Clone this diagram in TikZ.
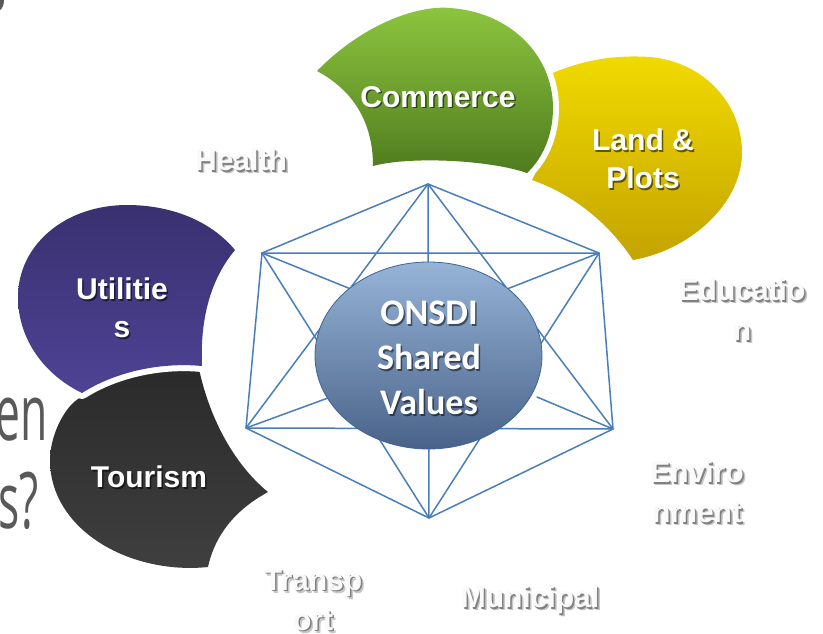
\documentclass[tikz,border=0pt]{standalone}
\usepackage{fontspec}
\setmainfont{Liberation Sans}
\newfontfamily\calib{Carlito}
\newfontfamily\opens{Open Sans}
\usetikzlibrary{shapes.geometric,shadings}
\definecolor{hexline}{HTML}{4A7EBB}
\definecolor{bgtext}{HTML}{595959}
\definecolor{grnT}{HTML}{8DC63F}
\definecolor{grnB}{HTML}{4F7B1E}
\definecolor{yelT}{HTML}{F1DA00}
\definecolor{yelB}{HTML}{C4A300}
\definecolor{purT}{HTML}{393070}
\definecolor{purB}{HTML}{4E4395}
\definecolor{greyT}{HTML}{2A2A2A}
\definecolor{greyB}{HTML}{404040}
\definecolor{ellT}{HTML}{96B4D8}
\definecolor{ellB}{HTML}{4A6289}
\definecolor{ellD}{HTML}{3D6597}
\definecolor{glabel}{HTML}{FAFAFA}
\tikzset{
  hexl/.style={draw=hexline, line width=1.5pt, line join=round, line cap=round},
  halo/.style={draw=white, line width=12pt, line join=round},
  inlbl/.style={text=white, font=\bfseries\fontsize{30}{38}\selectfont, align=center, inner sep=0pt},
  inshd/.style={text=black, opacity=0.55, font=\bfseries\fontsize{30}{38}\selectfont, align=center, inner sep=0pt},
  glbl/.style={text=glabel, font=\bfseries\fontsize{30}{40}\selectfont, align=center, inner sep=0pt},
  gshd/.style={text=black!50, font=\bfseries\fontsize{30}{40}\selectfont, align=center, inner sep=0pt},
  gshdb/.style={text=black!22, font=\bfseries\fontsize{30}{40}\selectfont, align=center, inner sep=0pt},
  elbl/.style={text=white, font=\calib\bfseries\fontsize{36}{45}\selectfont, align=center, inner sep=0pt},
  eshd/.style={text=black, opacity=0.5, font=\calib\bfseries\fontsize{36}{45}\selectfont, align=center, inner sep=0pt},
  bgtxt/.style={text=bgtext, font=\opens\fontsize{78}{80}\selectfont, inner sep=0pt, xscale=0.57, transform shape}
}
\begin{document}
\begin{tikzpicture}[x=1pt,y=-1pt]
\useasboundingbox (0,0) rectangle (823,633);
\fill[white] (0,0) rectangle (823,633);

% background slide fragments
\fill[black!65] (0,0) -- (4,0) .. controls (4,5) and (2,9) .. (0,10) -- cycle;
\node[bgtxt, anchor=base east] (bgen) at (48,440) {en};
\node[bgtxt, anchor=base east] (bgs) at (39,528) {s?};

% Land & Plots (yellow)
\path[top color=yelT, bottom color=yelB]
  (546,76) .. controls (585,58) and (620,55) .. (650,57)
  .. controls (705,62) and (743,105) .. (742,155)
  .. controls (740,205) and (690,250) .. (633,260)
  .. controls (610,225) and (575,195) .. (532,180)
  .. controls (548,150) and (552,110) .. (546,76) -- cycle;

% Commerce (green)
\path[halo]
  (317,71) .. controls (365,22) and (420,5) .. (450,8)
  .. controls (510,12) and (553,55) .. (553,108)
  .. controls (553,135) and (543,158) .. (527,173)
  .. controls (490,160) and (410,156) .. (373,166)
  .. controls (373,128) and (358,93) .. (317,71) -- cycle;
\path[top color=grnT, bottom color=grnB]
  (317,71) .. controls (365,22) and (420,5) .. (450,8)
  .. controls (510,12) and (553,55) .. (553,108)
  .. controls (553,135) and (543,158) .. (527,173)
  .. controls (490,160) and (410,156) .. (373,166)
  .. controls (373,128) and (358,93) .. (317,71) -- cycle;

% Tourism (dark grey)
\path[top color=greyT, bottom color=greyB]
  (74,402) .. controls (110,374) and (160,366) .. (199,369)
  .. controls (210,420) and (235,465) .. (268,492)
  .. controls (235,510) and (215,535) .. (208,567)
  .. controls (130,575) and (50,530) .. (50,460)
  .. controls (50,440) and (60,415) .. (74,402) -- cycle;

% Utilities (purple)
\path[halo]
  (235,250) .. controls (210,220) and (170,205) .. (127,205)
  .. controls (65,205) and (18,245) .. (18,297)
  .. controls (18,340) and (45,375) .. (82,393)
  .. controls (115,372) and (160,362) .. (202,366)
  .. controls (200,320) and (210,280) .. (235,250) -- cycle;
\path[top color=purT, bottom color=purB]
  (235,250) .. controls (210,220) and (170,205) .. (127,205)
  .. controls (65,205) and (18,245) .. (18,297)
  .. controls (18,340) and (45,375) .. (82,393)
  .. controls (115,372) and (160,362) .. (202,366)
  .. controls (200,320) and (210,280) .. (235,250) -- cycle;

% shape labels
\node[inshd] (commerceS) at (439.5,98.5) {Commerce};
\node[inlbl] (commerce) at (438,97) {Commerce};
\node[inshd] (landS) at (644.5,160.5) {Land \&\\Plots};
\node[inlbl] (land) at (643,159) {Land \&\\Plots};
\node[inshd] (utilS) at (123.5,309.5) {Utilitie\\s};
\node[inlbl] (util) at (122,308) {Utilitie\\s};
\node[inshd] (tourS) at (150.5,478.5) {Tourism};
\node[inlbl] (tour) at (149,477) {Tourism};

% network
\coordinate (T) at (428,184);
\coordinate (UL) at (262,253);
\coordinate (UR) at (599,253);
\coordinate (LL) at (246,428);
\coordinate (LR) at (613,429);
\coordinate (B) at (429,518);
\coordinate (h1) at (400,309);
\coordinate (h2) at (461,307);
\coordinate (h3) at (380,379);
\coordinate (h4) at (537,397);
\draw[hexl] (T) -- (UR) -- (LR) -- (B) -- (LL) -- (UL) -- cycle;
\draw[hexl] (T) -- (LL) -- (LR) -- cycle;
\draw[hexl] (B) -- (UL) -- (UR) -- cycle;
\draw[hexl] (T) -- (B);
\draw[hexl] (UL) -- (h1);
\draw[hexl] (UR) -- (h2);
\draw[hexl] (LL) -- (h3);
\draw[hexl] (LR) -- (h4);

% centre ellipse
\node[ellipse, draw=ellD, line width=0.8pt, top color=ellT, bottom color=ellB,
      minimum width=227pt, minimum height=187pt, inner sep=0pt] (core) at (428.5,355.5) {};
\node[eshd] (coreS) at (430.5,359.5) {ONSDI\\Shared\\Values};
\node[elbl] (coreT) at (429,358) {ONSDI\\Shared\\Values};

% grey labels
\node[gshdb] (healthS2) at (244,163) {Health};
\node[gshd] (healthS) at (242.5,161.5) {Health};
\node[glbl] (health) at (241,160) {Health};

\node[gshdb] (eduS2) at (745,313) {Educatio\\n};
\node[gshd] (eduS) at (743.5,311.5) {Educatio\\n};
\node[glbl] (edu) at (742,310) {Educatio\\n};

\node[gshdb] (envS2) at (700,495) {Enviro\\nment};
\node[gshd] (envS) at (698.5,493.5) {Enviro\\nment};
\node[glbl] (env) at (697,492) {Enviro\\nment};

\node[gshdb] (traS2) at (316,603) {Transp\\ort};
\node[gshd] (traS) at (314.5,601.5) {Transp\\ort};
\node[glbl] (tra) at (313,600) {Transp\\ort};

\node[gshdb] (munS2) at (533,603) {Municipal};
\node[gshd] (munS) at (531.5,601.5) {Municipal};
\node[glbl] (mun) at (530,600) {Municipal};
\end{tikzpicture}
\end{document}
